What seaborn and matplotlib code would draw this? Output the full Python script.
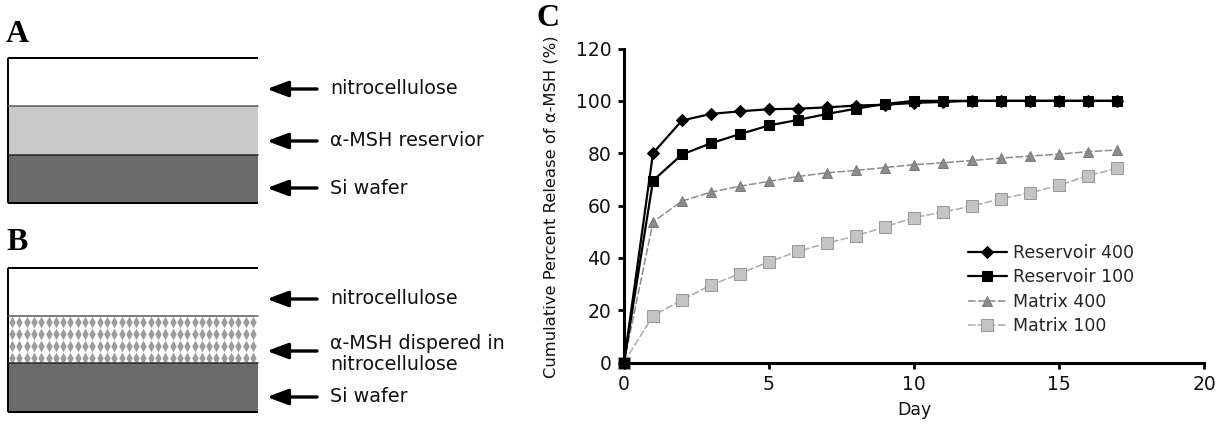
import numpy as np
import pandas as pd
import matplotlib
matplotlib.use("Agg")
import matplotlib.pyplot as plt
from matplotlib.patches import Rectangle
from matplotlib.path import Path
import seaborn as sns

# ---------------- data ----------------
days = list(range(0, 18))
reservoir_400 = [0, 80, 92.5, 95, 96, 96.8, 97, 97.5, 98.2, 98.5, 99.2, 99.6, 100, 100, 100, 100, 100, 100]
reservoir_100 = [0, 69.5, 79.5, 83.8, 87.3, 90.6, 92.7, 95, 97, 98.8, 100, 100, 100, 100, 100, 100, 100, 100]
matrix_400 = [0, 53.7, 61.7, 65.1, 67.4, 69.2, 71.1, 72.5, 73.4, 74.5, 75.6, 76.3, 77.2, 78.1, 78.9, 79.6, 80.6, 81.2]
matrix_100 = [0, 17.9, 23.9, 29.6, 34.0, 38.5, 42.5, 45.6, 48.4, 51.8, 55.4, 57.5, 59.8, 62.6, 64.8, 67.7, 71.4, 74.2]
series_names = ["Reservoir 400", "Reservoir 100", "Matrix 400", "Matrix 100"]
x_ticks = [0, 5, 10, 15, 20]
y_ticks = [0, 20, 40, 60, 80, 100, 120]

layers_a = ["nitrocellulose", "\u03b1-MSH reservior", "Si wafer"]
layers_b = ["nitrocellulose", "\u03b1-MSH dispered in\nnitrocellulose", "Si wafer"]

sns.set_style("ticks")
plt.rcParams['font.family'] = ['DejaVu Sans']

W, H = 1222, 426
fig = plt.figure(figsize=(W / 100, H / 100), dpi=100)

# ---------------- schematic panels (pixel coordinates) ----------------
ax0 = fig.add_axes([0, 0, 1, 1], zorder=0)
ax0.set_xlim(0, W)
ax0.set_ylim(H, 0)
ax0.axis("off")

BX0, BX1 = 8, 258
px = 0.72  # points per pixel


def draw_box(top, b1, b2, bottom, middle_kind):
    ax0.add_patch(Rectangle((BX0, top), BX1 - BX0, b1 - top, facecolor="white", edgecolor="none"))
    if middle_kind == "solid":
        ax0.add_patch(Rectangle((BX0, b1), BX1 - BX0, b2 - b1, facecolor="#c9c9c9", edgecolor="none"))
    else:
        ax0.add_patch(Rectangle((BX0, b1), BX1 - BX0, b2 - b1, facecolor="white", edgecolor="none"))
        diamond = Path([(0, 1), (0.55, 0), (0, -1), (-0.55, 0), (0, 1)],
                       [Path.MOVETO, Path.LINETO, Path.LINETO, Path.LINETO, Path.CLOSEPOLY])
        xs = np.arange(BX0 + 4, BX1 - 2, 7.3)
        nrows = 4
        ys = np.linspace(b1 + 5.5, b2 - 5.5, nrows)
        gx, gy = np.meshgrid(xs, ys)
        ax0.scatter(gx.ravel(), gy.ravel(), marker=diamond, s=70, color="#9c9c9c",
                    linewidths=0, zorder=2)
    ax0.add_patch(Rectangle((BX0, b2), BX1 - BX0, bottom - b2, facecolor="#6b6b6b", edgecolor="none"))
    # borders
    ax0.plot([BX0, BX1], [top, top], color="black", lw=2 * px, solid_capstyle="butt", zorder=3)
    ax0.plot([BX0, BX1], [bottom, bottom], color="black", lw=2 * px, solid_capstyle="butt", zorder=3)
    ax0.plot([BX0, BX0], [top, bottom], color="black", lw=2 * px, solid_capstyle="butt", zorder=3)
    ax0.plot([BX0, BX1], [b1, b1], color="#555555", lw=1.5 * px, zorder=3)
    ax0.plot([BX0, BX1], [b2, b2], color="#222222", lw=1.5 * px, zorder=3)


def arrow_label(y, text, ty=None):
    ax0.annotate("", xy=(267, y), xytext=(317, y),
                 arrowprops=dict(arrowstyle="-|>,head_length=0.85,head_width=0.32",
                                 lw=2.4, color="black", mutation_scale=15,
                                 shrinkA=0, shrinkB=0))
    ax0.text(330, y if ty is None else ty, text, ha="left", va="center", fontsize=13.8,
             color="#111111", linespacing=1.1)


draw_box(58, 106, 155, 203, "solid")
draw_box(268, 316, 363, 412, "diamond")

arrow_label(89, layers_a[0])
arrow_label(141, layers_a[1])
arrow_label(188, layers_a[2])
arrow_label(299, layers_b[0])
arrow_label(351, layers_b[1], ty=354)
arrow_label(397, layers_b[2])

letter_kw = dict(fontsize=23, fontweight="bold", family=["Liberation Serif", "DejaVu Serif"],
                 ha="left", va="center", color="black")
ax0.text(6, 34, "A", **letter_kw)
ax0.text(6, 242, "B", **letter_kw)
ax0.text(536, 18, "C", **letter_kw)

# ---------------- panel C: release curves ----------------
L, R, T, B = 624, 1204, 48.5, 362.5
ax = fig.add_axes([L / W, 1 - B / H, (R - L) / W, (B - T) / H], zorder=1)
ax.patch.set_alpha(0)

styles = {
    "Reservoir 400": dict(color="black", marker="D", markersize=6, lw=1.6,
                          markeredgecolor="black", linestyle="-"),
    "Reservoir 100": dict(color="black", marker="s", markersize=7, lw=1.6,
                          markeredgecolor="black", linestyle="-"),
    "Matrix 400": dict(color="#8c8c8c", marker="^", markersize=6.5, lw=1.1,
                       markeredgecolor="#7a7a7a", linestyle=(0, (5, 1.5))),
    "Matrix 100": dict(color="#ababab", marker="s", markersize=8.5, lw=1.1,
                       markeredgecolor="#999999", markerfacecolor="#c4c4c4",
                       linestyle=(0, (5, 1.5))),
}
values = {
    "Reservoir 400": reservoir_400,
    "Reservoir 100": reservoir_100,
    "Matrix 400": matrix_400,
    "Matrix 100": matrix_100,
}
for name in reversed(series_names):
    st = styles[name]
    sns.lineplot(x=days, y=values[name], ax=ax, label=name, clip_on=False,
                 zorder=3 if name.startswith("Reservoir") else 2, **st)

ax.set_xlim(0, 20)
ax.set_ylim(0, 120)
ax.set_xticks(x_ticks)
ax.set_yticks(y_ticks)
sns.despine(ax=ax)
for sp in ["left", "bottom"]:
    ax.spines[sp].set_linewidth(2.2)
    ax.spines[sp].set_color("black")
ax.tick_params(axis="both", direction="out", length=4.2, width=2, color="black",
               labelsize=13.5, labelcolor="#111111")
ax.tick_params(axis="x", pad=5)
ax.tick_params(axis="y", pad=5)

ax.set_xlabel("Day", fontsize=12.5, color="#111111")
ax.xaxis.set_label_coords(0.5, -0.151)
ax.xaxis.label.set_va("center")
ax.set_ylabel("Cumulative Percent Release of \u03b1-MSH (%)", fontsize=11.8, color="#111111")
ax.yaxis.set_label_coords(-0.126, 0.495)
ax.yaxis.label.set_va("center")

handles, labels = ax.get_legend_handles_labels()
order = [labels.index(n) for n in series_names]
ax.legend([handles[i] for i in order], [labels[i] for i in order],
          loc="center left", bbox_to_anchor=(0.593, 0.2325), frameon=False,
          borderaxespad=0, borderpad=0, fontsize=12.5, handlelength=2.25,
          handletextpad=0.35, labelspacing=0.38)

fig.savefig("out.png", dpi=100)
